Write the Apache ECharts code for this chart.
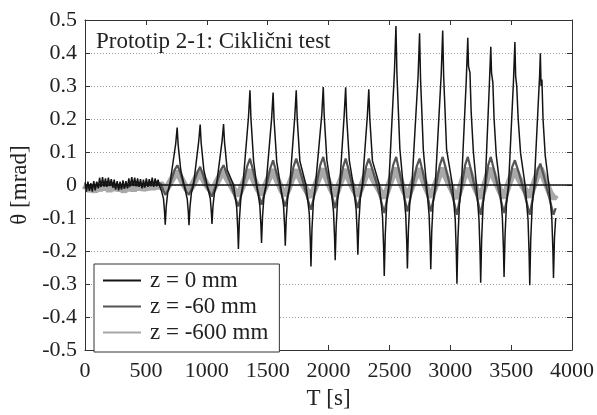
<!DOCTYPE html>
<html>
<head>
<meta charset="utf-8">
<script src="https://cdn.jsdelivr.net/npm/echarts@6/dist/echarts.min.js"></script>
<style>
  html, body { margin: 0; padding: 0; background: #fff; }
  #source { width: 597px; height: 415px; }
</style>
</head>
<body>
<div id="source"></div>
<script>
// theta [mrad] vs T [s]
var seriesNames = ['z = 0 mm', 'z = -60 mm', 'z = -600 mm'];
var xTicks = [0, 4000, 500];
var yTicks = [-0.5, 0.5, 0.1];

var z0 = [
  [0,0.008],[12,-0.02],[24,0.01],[36,-0.018],[48,0.006],[60,-0.02],[72,0.012],[84,-0.016],
  [96,0.01],[108,-0.01],[120,0.022],[132,-0.006],[144,0.024],[156,-0.004],[168,0.02],[180,-0.006],
  [192,0.022],[204,-0.002],[216,0.018],[228,-0.008],[240,0.016],[252,-0.014],[264,0.012],[276,-0.016],
  [288,0.01],[300,-0.014],[312,0.014],[324,-0.012],[336,0.012],[348,-0.01],[360,0.02],[372,-0.004],
  [384,0.024],[396,-0.002],[408,0.022],[420,-0.004],[432,0.02],[444,-0.006],[456,0.018],[468,-0.01],
  [480,0.016],[492,-0.008],[504,0.02],[516,-0.006],[528,0.018],[540,-0.004],[552,0.022],[564,-0.006],
  [576,0.02],[588,-0.004],[600,0.016],[612,-0.002],[630,-0.02],[645,-0.042],[654,-0.084],[659,-0.12],
  [667,-0.066],[679,-0.024],[696,0],[745,0.125],[757,0.174],
  [765,0.122],[787,0.044],[814,0],[840,-0.043],[849,-0.085],[854,-0.122],
  [862,-0.067],[874,-0.024],[891,0],[934,0.132],[946,0.183],
  [954,0.128],[976,0.046],[1003,0],[1029,-0.041],[1038,-0.083],[1043,-0.118],
  [1051,-0.065],[1063,-0.024],[1080,0],[1126,0.133],[1138,0.185],
  [1146,0.13],[1168,0.046],[1220,0],[1246,-0.068],[1255,-0.136],[1260,-0.194],
  [1268,-0.107],[1280,-0.039],[1297,0],[1343,0.207],[1355,0.287],
  [1363,0.201],[1385,0.072],[1410,0],[1436,-0.062],[1445,-0.123],[1450,-0.176],
  [1458,-0.097],[1470,-0.035],[1487,0],[1533,0.202],[1545,0.28],
  [1553,0.196],[1575,0.07],[1605,0],[1631,-0.064],[1640,-0.129],[1645,-0.184],
  [1653,-0.101],[1665,-0.037],[1682,0],[1723,0.207],[1735,0.287],
  [1743,0.201],[1765,0.072],[1815,0],[1842,-0.086],[1851,-0.173],[1856,-0.247],
  [1864,-0.136],[1876,-0.049],[1893,0],[1945,0.214],[1957,0.297],
  [1965,0.208],[1987,0.074],[2018,0],[2041,-0.08],[2050,-0.16],[2055,-0.228],
  [2063,-0.125],[2075,-0.046],[2092,0],[2129,0.213],[2141,0.296],
  [2149,0.207],[2171,0.074],[2204,0],[2227,-0.074],[2236,-0.148],[2241,-0.211],
  [2249,-0.116],[2261,-0.042],[2278,0],[2319,0.209],[2331,0.29],
  [2339,0.203],[2361,0.073],[2418,0],[2444,-0.097],[2453,-0.193],[2458,-0.276],
  [2466,-0.152],[2478,-0.055],[2495,0],[2542,0.347],[2554,0.482],
  [2562,0.337],[2586,0.11],[2613,0],[2634,-0.089],[2643,-0.177],[2648,-0.253],
  [2656,-0.139],[2668,-0.051],[2685,0],[2736,0.331],[2748,0.46],
  [2756,0.322],[2779,0.105],[2805,0],[2826,-0.089],[2835,-0.179],[2840,-0.255],
  [2848,-0.14],[2860,-0.051],[2877,0],[2926,0.337],[2938,0.468],
  [2946,0.328],[2970,0.107],[3018,0],[3041,-0.105],[3050,-0.209],[3055,-0.299],
  [3063,-0.164],[3075,-0.06],[3092,0],[3132,0.321],[3144,0.446],
  [3150,0.36],[3162,0.34],[3172,0.22],[3190,0.1],[3215,0],[3236,-0.104],[3245,-0.207],[3250,-0.296],
  [3258,-0.163],[3270,-0.059],[3287,0],[3321,0.302],[3333,0.419],
  [3339,0.34],[3350,0.31],[3360,0.2],[3378,0.09],[3407,0],[3428,-0.098],[3437,-0.195],[3442,-0.279],
  [3450,-0.153],[3462,-0.056],[3479,0],[3519,0.312],[3531,0.433],
  [3537,0.33],[3546,0.3],[3558,0.2],[3578,0.095],[3615,0],[3639,-0.106],[3648,-0.213],[3653,-0.304],
  [3661,-0.167],[3673,-0.061],[3690,0],[3728,0.287],[3734,0.33],[3740,0.399],
  [3746,0.3],[3753,0.32],[3762,0.2],[3780,0.09],[3810,0],[3834,-0.099],[3843,-0.197],[3848,-0.282],
  [3856,-0.16],[3866,-0.1]
];

var z60 = [
  [0,-0.01],[20,0.002],[40,-0.012],[60,0.0],[80,-0.008],[100,0.006],[120,-0.006],[140,0.008],
  [160,-0.004],[180,0.01],[200,-0.002],[220,0.008],[240,-0.008],[260,0.004],[280,-0.01],[300,0.002],
  [320,-0.008],[340,0.004],[360,-0.006],[380,0.008],[400,-0.002],[420,0.01],[440,-0.004],[460,0.006],
  [480,-0.006],[500,0.008],[520,-0.002],[540,0.01],[560,0.0],[580,0.012],[600,0.0],[620,0.005],
  [659,-0.03],[685,-0.015],[710,0.015],[735,0.045],[759,0.06],[785,0.035],[808,0.005],[832,-0.02],
  [854,-0.03],[878,-0.01],[900,0.015],[925,0.04],[946,0.055],[970,0.03],[995,0.0],[1020,-0.02],
  [1043,-0.035],[1066,-0.01],[1090,0.015],[1115,0.045],[1138,0.06],[1168,0.03],[1200,0.0],[1230,-0.035],
  [1260,-0.065],[1283,-0.03],[1305,0.01],[1330,0.055],[1355,0.08],[1380,0.045],[1402,0.01],[1427,-0.03],
  [1450,-0.06],[1474,-0.025],[1497,0.01],[1521,0.05],[1545,0.075],[1570,0.04],[1595,0.005],[1620,-0.035],
  [1645,-0.065],[1667,-0.03],[1690,0.01],[1712,0.055],[1735,0.08],[1765,0.045],[1795,0.005],[1826,-0.04],
  [1856,-0.075],[1881,-0.035],[1906,0.01],[1932,0.06],[1957,0.085],[1982,0.045],[2006,0.005],[2030,-0.035],
  [2055,-0.07],[2076,-0.03],[2098,0.01],[2120,0.055],[2141,0.08],[2166,0.045],[2191,0.005],[2216,-0.035],
  [2241,-0.07],[2263,-0.03],[2286,0.01],[2308,0.055],[2331,0.08],[2363,0.045],[2395,0.005],[2426,-0.04],
  [2458,-0.085],[2482,-0.04],[2507,0.01],[2531,0.06],[2556,0.085],[2579,0.045],[2602,0.005],[2625,-0.04],
  [2648,-0.08],[2673,-0.04],[2698,0.01],[2723,0.055],[2748,0.08],[2771,0.045],[2794,0.005],[2817,-0.04],
  [2840,-0.08],[2865,-0.04],[2889,0.01],[2914,0.06],[2938,0.085],[2967,0.045],[2996,0.0],[3026,-0.045],
  [3055,-0.09],[3077,-0.045],[3100,0.01],[3122,0.06],[3144,0.085],[3171,0.045],[3197,0.0],[3224,-0.045],
  [3250,-0.09],[3271,-0.045],[3292,0.01],[3312,0.06],[3333,0.085],[3360,0.045],[3388,0.0],[3415,-0.045],
  [3442,-0.085],[3464,-0.045],[3487,0.01],[3509,0.055],[3531,0.075],[3561,0.04],[3592,0.0],[3622,-0.045],
  [3653,-0.09],[3675,-0.045],[3697,0.005],[3718,0.045],[3740,0.065],[3767,0.03],[3794,-0.01],[3821,-0.05],
  [3848,-0.09],[3866,-0.07]
];

var z600 = [
  [0,-0.015],[20,-0.002],[40,-0.018],[60,-0.005],[80,-0.02],[100,-0.004],[120,-0.016],[140,0.0],
  [160,-0.012],[180,-0.002],[200,-0.018],[220,-0.004],[240,-0.014],[260,0.0],[280,-0.016],[300,-0.006],
  [320,-0.02],[340,-0.004],[360,-0.014],[380,-0.002],[400,-0.016],[420,-0.004],[440,-0.012],[460,0.0],
  [480,-0.014],[500,-0.004],[520,-0.012],[540,0.002],[560,-0.01],[580,0.0],[600,-0.008],[620,0.004],
  [659,-0.015],[684,-0.002],[710,0.015],[735,0.03],[759,0.04],[784,0.022],[808,0.005],[832,-0.01],
  [854,-0.018],[877,-0.005],[900,0.012],[923,0.028],[946,0.04],[970,0.02],[995,0.003],[1020,-0.01],
  [1043,-0.02],[1066,-0.004],[1090,0.014],[1114,0.03],[1138,0.042],[1168,0.02],[1200,0.0],[1230,-0.02],
  [1260,-0.03],[1283,-0.012],[1307,0.01],[1331,0.03],[1355,0.045],[1379,0.022],[1402,0.003],[1426,-0.015],
  [1450,-0.028],[1474,-0.01],[1497,0.01],[1521,0.03],[1545,0.045],[1570,0.022],[1595,0.002],[1620,-0.018],
  [1645,-0.03],[1668,-0.012],[1690,0.01],[1713,0.03],[1735,0.045],[1765,0.022],[1795,0.0],[1826,-0.02],
  [1856,-0.035],[1881,-0.015],[1906,0.01],[1932,0.032],[1957,0.048],[1982,0.024],[2006,0.002],[2031,-0.018],
  [2055,-0.032],[2077,-0.012],[2098,0.01],[2120,0.03],[2141,0.046],[2166,0.022],[2191,0.0],[2216,-0.018],
  [2241,-0.032],[2263,-0.012],[2286,0.01],[2308,0.032],[2331,0.046],[2363,0.022],[2395,0.0],[2426,-0.02],
  [2458,-0.038],[2483,-0.016],[2507,0.01],[2532,0.034],[2556,0.05],[2579,0.024],[2602,0.0],[2625,-0.02],
  [2648,-0.036],[2673,-0.015],[2698,0.01],[2723,0.033],[2748,0.048],[2771,0.024],[2794,0.0],[2817,-0.02],
  [2840,-0.036],[2865,-0.015],[2889,0.01],[2914,0.034],[2938,0.05],[2967,0.024],[2996,0.0],[3026,-0.022],
  [3055,-0.04],[3077,-0.016],[3100,0.01],[3122,0.034],[3144,0.05],[3171,0.024],[3197,0.0],[3224,-0.022],
  [3250,-0.04],[3271,-0.016],[3292,0.01],[3312,0.034],[3333,0.05],[3360,0.024],[3388,0.0],[3415,-0.022],
  [3442,-0.038],[3464,-0.015],[3487,0.01],[3509,0.032],[3531,0.046],[3561,0.022],[3592,0.0],[3622,-0.02],
  [3653,-0.035],[3675,-0.012],[3697,0.012],[3718,0.035],[3740,0.05],[3767,0.025],[3794,0.0],[3821,-0.025],
  [3848,-0.04],[3866,-0.03]
];

var dom = document.getElementById('source');
var myChart = echarts.init(dom, null, { renderer: 'canvas' });

var font = '"Liberation Serif", "Times New Roman", serif';
var frame = { show: true, onZero: false, lineStyle: { color: '#333', width: 1 } };
var ticks = { show: true, inside: true, length: 5, lineStyle: { color: '#333' } };

function fmtY(v) {
  return String(Math.round(v * 10) / 10);
}

var option = {
  animation: false,
  backgroundColor: '#fff',
  title: {
    text: 'Prototip 2-1: Ciklični test',
    left: 96,
    top: 30,
    padding: 0,
    textStyle: { fontFamily: font, fontSize: 23, fontWeight: 'normal', color: '#222' }
  },
  grid: { left: 85, right: 20, top: 20, bottom: 55 },
  legend: {
    data: seriesNames,
    orient: 'vertical',
    left: 94,
    top: 264,
    padding: [5, 11, 8, 9],
    itemGap: 3,
    itemWidth: 38,
    itemHeight: 2,
    icon: 'rect',
    backgroundColor: '#fff',
    borderColor: '#333',
    borderWidth: 1,
    textStyle: { fontFamily: font, fontSize: 23, color: '#222', padding: [0, 0, 0, 4] }
  },
  xAxis: [
    {
      type: 'value', min: xTicks[0], max: xTicks[1], interval: xTicks[2],
      position: 'bottom',
      name: 'T [s]', nameLocation: 'middle', nameGap: 37,
      nameTextStyle: { fontFamily: font, fontSize: 23, color: '#222' },
      axisLine: frame, axisTick: ticks,
      axisLabel: { fontFamily: font, fontSize: 22, color: '#222', margin: 10, formatter: function (v) { return String(v); } },
      splitLine: { show: false }
    },
    {
      type: 'value', min: xTicks[0], max: xTicks[1], interval: xTicks[2],
      position: 'top',
      axisLine: frame, axisTick: ticks,
      axisLabel: { show: false },
      splitLine: { show: false }
    }
  ],
  yAxis: [
    {
      type: 'value', min: yTicks[0], max: yTicks[1], interval: yTicks[2],
      position: 'left',
      name: 'θ [mrad]', nameLocation: 'middle', nameGap: 52, nameRotate: 90,
      nameTextStyle: { fontFamily: font, fontSize: 23, color: '#222' },
      axisLine: frame, axisTick: ticks,
      axisLabel: { fontFamily: font, fontSize: 22, color: '#222', margin: 8, formatter: fmtY },
      splitLine: { show: true, lineStyle: { color: '#999', type: [1, 2], width: 1 } }
    },
    {
      type: 'value', min: yTicks[0], max: yTicks[1], interval: yTicks[2],
      position: 'right',
      axisLine: frame, axisTick: ticks,
      axisLabel: { show: false },
      splitLine: { show: false }
    }
  ],
  series: [
    {
      name: seriesNames[2], type: 'line', data: z600,
      showSymbol: false, symbol: 'none',
      itemStyle: { color: '#a8a8a8' },
      lineStyle: { color: '#a8a8a8', width: 7 }
    },
    {
      name: seriesNames[1], type: 'line', data: z60,
      showSymbol: false, symbol: 'none',
      itemStyle: { color: '#555' },
      lineStyle: { color: '#555', width: 2.2 }
    },
    {
      name: seriesNames[0], type: 'line', data: z0,
      showSymbol: false, symbol: 'none',
      itemStyle: { color: '#141414' },
      lineStyle: { color: '#141414', width: 1.5 },
      markLine: {
        silent: true, symbol: ['none', 'none'], label: { show: false },
        lineStyle: { color: '#111', type: 'solid', width: 1.5 },
        data: [{ yAxis: 0 }]
      }
    }
  ]
};

myChart.setOption(option);
window.addEventListener('resize', myChart.resize);
</script>
</body>
</html>
